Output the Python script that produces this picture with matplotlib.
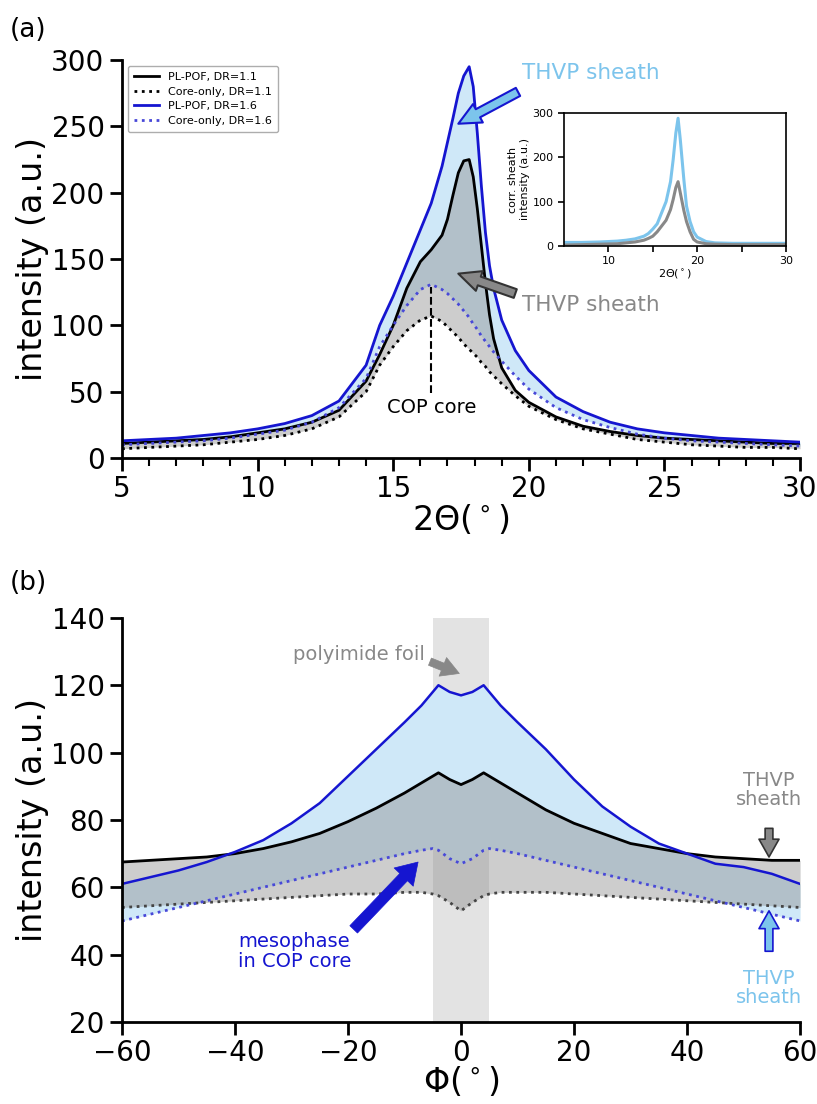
import numpy as np
import matplotlib
matplotlib.use("Agg")
import matplotlib.pyplot as plt

# WAXS radial profiles, 2theta in deg
tt = [5, 6, 7, 8, 9, 10, 11, 12, 13, 14, 14.5, 15, 15.5, 16, 16.4, 16.8, 17.0, 17.2,
      17.4, 17.6, 17.8, 17.95, 18.1, 18.25, 18.4, 18.55, 18.7, 19, 19.5, 20, 21, 22,
      23, 24, 25, 26, 27, 28, 29, 30]
pl11 = [11, 12, 13, 14, 16, 19, 22, 27, 36, 58, 78, 100, 128, 148, 157, 168, 180, 198,
        215, 224, 225, 212, 188, 160, 132, 108, 90, 68, 51, 42, 31, 24,
        20, 17, 15, 14, 13, 12, 11, 11]
core11 = [7, 8, 9, 10, 12, 14, 17, 22, 31, 50, 70, 84, 96, 104, 107, 103, 99, 95,
          91, 86, 82, 79, 76, 72, 69, 65, 62, 56, 47, 39, 29, 22,
          18, 14, 12, 10, 9, 8, 8, 7]
pl16 = [13, 14, 15, 17, 19, 22, 26, 32, 43, 70, 100, 122, 147, 172, 192, 220, 238, 256,
        275, 288, 295, 280, 245, 205, 170, 145, 128, 104, 81, 66, 46, 35,
        27, 22, 19, 17, 15, 14, 13, 12]
core16 = [10, 11, 12, 13, 15, 18, 21, 27, 38, 60, 84, 100, 115, 127, 131, 127, 124, 120,
          116, 111, 106, 101, 97, 92, 88, 84, 80, 73, 62, 52, 38, 29,
          23, 18, 15, 13, 12, 11, 10, 9]

# corrected sheath signal (inset)
tt_in = [5, 7, 9, 11, 12, 13, 14, 14.5, 15, 15.5, 16, 16.5, 17, 17.3, 17.6, 17.85,
         18.1, 18.5, 18.8, 19.2, 19.6, 20, 21, 22, 24, 26, 28, 30]
corr16 = [8, 8, 9, 11, 13, 16, 22, 28, 38, 50, 75, 100, 145, 195, 255, 288,
          240, 150, 90, 55, 32, 20, 10, 7, 6, 6, 6, 6]
corr11 = [2, 3, 4, 5, 7, 9, 13, 17, 22, 32, 45, 58, 82, 105, 132, 145,
          120, 80, 55, 32, 15, 9, 5, 4, 3, 3, 3, 3]

# azimuthal profiles, phi in deg
phi = [-60, -55, -50, -45, -40, -35, -30, -25, -20, -15, -10, -7, -5, -4, -2, 0,
       2, 4, 5, 7, 10, 15, 20, 25, 30, 35, 40, 45, 50, 55, 60]
pl16b = [61, 63, 65, 67.5, 70.5, 74, 79, 85, 93, 101, 109, 114, 118, 120, 118, 117,
         118, 120, 118, 114, 109, 101, 92, 84, 78, 73, 70, 67, 66, 64, 61]
pl11b = [67.5, 68, 68.5, 69, 70, 71.5, 73.5, 76, 79.5, 83.5, 88, 91, 93, 94, 92, 90.5,
         92, 94, 93, 91, 88, 83, 79, 76, 73, 71.5, 70, 69, 68.5, 68, 68]
core16b = [50, 52, 54, 56, 58, 60, 62, 64, 66, 68, 70, 71, 71.5, 71, 68.5, 67,
           68.5, 71, 71.5, 71, 70, 68, 66, 64, 62, 60, 58, 56, 54, 52, 50]
core11b = [54, 54.5, 55, 55.5, 56, 56.5, 57, 57.5, 58, 58, 58.5, 58.5, 58, 57.5, 55.5, 53,
           55.5, 57.5, 58, 58.5, 58.5, 58.5, 58, 57.5, 57, 56.5, 56, 55.5, 55, 54.5, 54]

BLUE = "#1515d0"
BLUE_DOT = "#4848d8"
LBLUE = "#7cc4ec"
FILL_B = "#cfe8f8"
GREY = "#888888"

plt.rcParams["font.family"] = "DejaVu Sans"
plt.rcParams["xtick.major.width"] = 2
plt.rcParams["ytick.major.width"] = 2
plt.rcParams["xtick.major.size"] = 9
plt.rcParams["ytick.major.size"] = 9

fig = plt.figure(figsize=(8.17, 11.04), dpi=100)

def style(ax):
    for s in ["top", "right"]:
        ax.spines[s].set_visible(False)
    for s in ["left", "bottom"]:
        ax.spines[s].set_linewidth(2)
    ax.tick_params(labelsize=20)

def arrow(ax, head, tail, fc, ec, scale=20, hw=0.75, hl=0.8, tw=0.33, lw=1.2):
    ax.annotate("", xy=head, xytext=tail,
                arrowprops=dict(arrowstyle="simple,head_length=%g,head_width=%g,tail_width=%g"
                                % (hl, hw, tw),
                                fc=fc, ec=ec, lw=lw, mutation_scale=scale,
                                shrinkA=0, shrinkB=0))

# ---- (a) ----
ax = fig.add_axes([0.1493, 0.5851, 0.830, 0.3605])
ax.fill_between(tt, pl16, core16, color=FILL_B, lw=0)
ax.fill_between(tt, pl11, core11, color="#909090", alpha=0.45, lw=0)
ax.plot(tt, pl11, color="k", lw=2, label="PL-POF, DR=1.1")
ax.plot(tt, core11, color="k", lw=2, ls=":", label="Core-only, DR=1.1")
ax.plot(tt, pl16, color=BLUE, lw=2, label="PL-POF, DR=1.6")
ax.plot(tt, core16, color=BLUE_DOT, lw=2, ls=":", label="Core-only, DR=1.6")
ax.set_xlim(5, 30)
ax.set_ylim(0, 300)
ax.set_xticks([5, 10, 15, 20, 25, 30])
ax.set_xticks(np.arange(5, 31, 1), minor=True)
ax.tick_params(axis="x", which="minor", length=6, width=1.5)
style(ax)
ax.set_xlabel(r"2$\Theta$($^\circ$)", fontsize=24, labelpad=0)
ax.set_ylabel("intensity (a.u.)", fontsize=24, labelpad=2)
leg = ax.legend(loc="upper left", fontsize=8, handlelength=2.2, borderpad=0.6,
                labelspacing=0.4, bbox_to_anchor=(0.0, 1.0))
leg.get_frame().set_edgecolor("#999999")

ax.plot([16.4, 16.4], [49, 129], color="k", lw=1.5, ls="--")
ax.text(16.4, 38, "COP core", fontsize=14, ha="center", va="center")
ax.text(22.3, 290, "THVP sheath", fontsize=15.5, color=LBLUE, ha="center", va="center")
arrow(ax, (17.4, 252), (19.6, 276), LBLUE, BLUE, lw=1.5)
ax.text(22.3, 115, "THVP sheath", fontsize=15.5, color=GREY, ha="center", va="center")
arrow(ax, (17.4, 139), (19.5, 124), GREY, "#333333", lw=1.5)
fig.text(0.012, 0.973, "(a)", fontsize=19, va="center")

# inset: corrected sheath intensity
axi = fig.add_axes([0.6903, 0.7772, 0.2717, 0.1205])
axi.plot(tt_in, corr16, color=LBLUE, lw=2.2)
axi.plot(tt_in, corr11, color=GREY, lw=2.2)
axi.set_xlim(5, 30)
axi.set_ylim(0, 300)
axi.set_xticks([10, 15, 20, 25, 30])
axi.set_xticklabels(["10", "", "20", "", "30"])
axi.set_yticks([0, 100, 200, 300])
axi.tick_params(labelsize=8, length=4, width=1.2)
for s in axi.spines.values():
    s.set_linewidth(1.2)
axi.set_xlabel(r"2$\Theta$($^\circ$)", fontsize=8, labelpad=1)
axi.set_ylabel("corr. sheath\nintensity (a.u.)", fontsize=8, labelpad=2)

# ---- (b) ----
bx = fig.add_axes([0.1493, 0.0743, 0.830, 0.3660])
bx.axvspan(-5, 5, color="#c8c8c8", alpha=0.5, lw=0)
bx.fill_between(phi, pl16b, core16b, color=FILL_B, lw=0)
bx.fill_between(phi, pl11b, core11b, color="#909090", alpha=0.45, lw=0)
bx.plot(phi, pl11b, color="k", lw=2)
bx.plot(phi, core11b, color="#444444", lw=2, ls=":")
bx.plot(phi, pl16b, color=BLUE, lw=1.8)
bx.plot(phi, core16b, color=BLUE_DOT, lw=2, ls=":")
bx.set_xlim(-60, 60)
bx.set_ylim(20, 140)
bx.set_xticks(range(-60, 61, 20))
bx.set_xticklabels([str(v).replace("-", "\u2212") for v in range(-60, 61, 20)])
style(bx)
bx.set_xlabel(r"$\Phi$($^\circ$)", fontsize=24, labelpad=-2)
bx.set_ylabel("intensity (a.u.)", fontsize=24, labelpad=2)

bx.text(-18, 129, "polyimide foil", fontsize=14, color=GREY, ha="center", va="center")
arrow(bx, (-0.3, 123.5), (-5.5, 127), GREY, GREY, scale=16, hw=0.9, tw=0.35, lw=0.5)
bx.text(54.5, 89, "THVP\nsheath", fontsize=14, color=GREY, ha="center", va="center",
        linespacing=1.0)
arrow(bx, (54.5, 69), (54.5, 77.5), GREY, "#333333", scale=16, hw=0.9, tw=0.35)
bx.text(54.5, 30, "THVP\nsheath", fontsize=14, color=LBLUE, ha="center", va="center",
        linespacing=1.0)
arrow(bx, (54.5, 53), (54.5, 41), LBLUE, BLUE, scale=16, hw=0.9, tw=0.35)
bx.text(-29.5, 41, "mesophase\nin COP core", fontsize=14, color=BLUE, ha="center",
        va="center", linespacing=1.1)
arrow(bx, (-7.6, 67.5), (-19, 47.5), BLUE, BLUE, scale=20, hw=0.95, hl=0.75, tw=0.38, lw=0.5)
fig.text(0.012, 0.472, "(b)", fontsize=19, va="center")

fig.savefig("out.png", dpi=100)
